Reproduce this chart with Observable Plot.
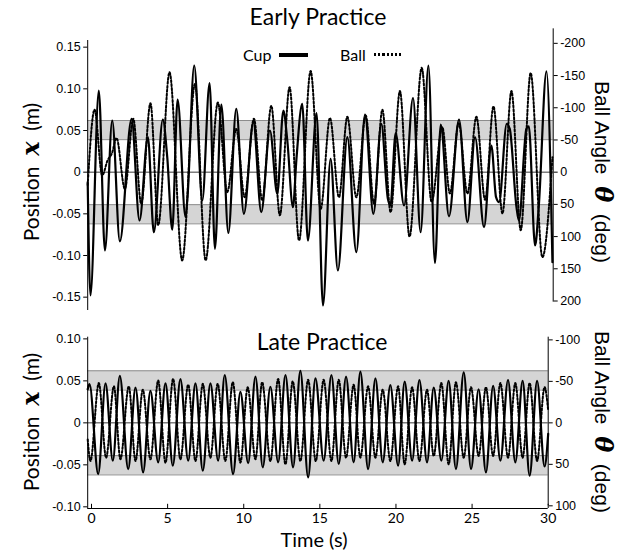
<!DOCTYPE html>
<html>
<head>
<meta charset="utf-8">
<script src="https://cdn.jsdelivr.net/npm/d3@7"></script>
<script src="https://cdn.jsdelivr.net/npm/@observablehq/plot@0.6"></script>
<style>
  body { margin: 0; background: #fff; }
  #wrap { position: relative; width: 624px; height: 556px; background: #fff; overflow: hidden; }
  .abs { position: absolute; white-space: nowrap; color: #000; }
  .title { font-family: Lato, "Open Sans", sans-serif; font-size: 23px; transform: translate(-50%, 0); }
  .ylab { font-family: Lato, "Open Sans", sans-serif; font-size: 21px; transform: translate(-50%, -50%) rotate(-90deg); }
  .rlab { font-family: "Liberation Sans", Arial, sans-serif; font-size: 21px; transform: translate(-50%, -50%) rotate(90deg); }
  .sym { font-family: "DejaVu Serif", "Liberation Serif", serif; font-style: italic; font-weight: bold; font-size: 24px; }
  .leg { font-family: Lato, "Open Sans", sans-serif; font-size: 16px; }
</style>
</head>
<body>
<div id="wrap">
  <div id="topPlot" class="abs" style="left:0;top:0"></div>
  <div id="botPlot" class="abs" style="left:0;top:320px"></div>

  <div class="abs title" style="left:318px;top:2px">Early Practice</div>
  <div class="abs title" style="left:322px;top:327px">Late Practice</div>
  <div class="abs title" style="left:314px;top:527px;font-size:20px">Time (s)</div>

  <div class="abs leg" style="left:243px;top:45px">Cup</div>
  <div class="abs" style="left:279px;top:53px;width:29px;height:3.5px;background:#000"></div>
  <div class="abs leg" style="left:340px;top:45px">Ball</div>
  <div class="abs" style="left:374px;top:53px;width:27px;height:3px;background:repeating-linear-gradient(90deg,#000 0 2.2px,transparent 2.2px 4.2px)"></div>

  <div class="abs ylab" style="left:30px;top:172px">Position&nbsp; <span class="sym">x</span>&nbsp; (m)</div>
  <div class="abs ylab" style="left:30px;top:422px">Position&nbsp; <span class="sym">x</span>&nbsp; (m)</div>
  <div class="abs rlab" style="left:603px;top:172px">Ball Angle&nbsp; <span class="sym">θ</span>&nbsp; (deg)</div>
  <div class="abs rlab" style="left:603px;top:422px">Ball Angle&nbsp; <span class="sym">θ</span>&nbsp; (deg)</div>
</div>

<script>
// ---------- Early practice: cup position (m), extrema ----------
const earlyCupT = [-0.25,-0.07,0.48,0.88,1.36,1.86,2.63,3.15,3.70,4.09,4.68,4.97,5.30,5.65,6.17,6.30,6.74,7.27,7.75,8.10,8.52,8.98,9.50,10.0,10.62,11.14,11.71,12.19,12.59,12.85,13.22,13.45,13.83,14.20,14.77,15.19,15.69,16.17,16.79,17.38,17.95,18.50,19.02,19.45,19.62,19.96,20.51,21.10,21.60,22.11,22.54,22.92,23.46,24.12,24.67,25.17,25.76,26.24,26.55,26.75,27.25,27.45,27.89,28.05,28.54,28.70,29.11,29.35,29.86,30.25];
const earlyCupX = [-0.012,-0.148,0.098,-0.094,0.062,-0.083,0.064,-0.058,0.042,-0.072,0.063,0.018,-0.069,0.087,-0.054,-0.030,0.128,-0.034,0.107,-0.092,0.081,-0.073,0.076,-0.050,0.060,-0.048,0.050,-0.026,0.074,0.038,-0.042,0.016,0.082,-0.082,0.071,-0.160,0.016,-0.118,0.042,-0.096,0.069,-0.050,0.058,-0.032,-0.040,0.047,-0.040,0.089,-0.072,0.128,-0.109,0.057,-0.053,0.063,-0.060,0.042,-0.066,0.032,-0.030,-0.036,0.058,0.052,-0.042,-0.058,0.052,0.055,-0.088,-0.042,0.121,-0.108];

// ---------- Early practice: ball angle (deg) ----------
const earlyBallT = [-0.25,0.20,0.70,1.05,1.35,1.64,2.19,2.74,3.26,3.87,4.38,5.12,5.95,6.79,7.49,8.29,8.91,9.50,10.05,10.66,11.20,11.80,12.36,13.00,13.62,14.38,15.04,15.65,16.24,16.79,17.38,18.00,18.54,19.09,19.63,20.24,20.87,21.67,22.32,23.02,23.52,24.10,24.67,25.26,25.83,26.38,26.97,27.56,28.17,28.82,29.59,30.25];
const earlyBallDeg = [20,-97,5,-18,-30,-53,26,-83,49,-107,82,-155,137,-137,137,-108,31,-67,39,-83,44,-103,67,-132,106,-157,57,-84,39,-86,39,-88,49,-97,62,-126,100,-162,46,-70,33,-76,33,-86,43,-102,64,-126,90,-154,132,-23];

// ---------- Late practice: cup position (m) ----------
const lateCupT = [-0.25,-0.13,0.44,0.92,1.40,1.86,2.41,2.89,3.39,3.87,4.38,4.86,5.34,5.84,6.35,6.83,7.31,7.81,8.32,8.75,9.30,9.78,10.29,10.77,11.25,11.75,12.26,12.74,13.24,13.72,14.23,14.71,15.25,15.76,16.24,16.72,17.22,17.66,18.17,18.65,19.13,19.63,20.14,20.57,21.06,21.54,22.04,22.48,22.98,23.46,23.94,24.45,24.93,25.43,25.91,26.38,26.86,27.36,27.84,28.32,28.78,29.27,29.76,30.0];
const lateCupX = [0.040,0.046,-0.061,0.047,-0.045,0.056,-0.055,0.042,-0.059,0.038,-0.047,0.047,-0.051,0.052,-0.045,0.047,-0.057,0.047,-0.045,0.057,-0.061,0.037,-0.048,0.055,-0.053,0.043,-0.047,0.057,-0.053,0.062,-0.065,0.053,-0.045,0.057,-0.049,0.055,-0.047,0.061,-0.055,0.053,-0.047,0.045,-0.051,0.049,-0.045,0.051,-0.047,0.042,-0.045,0.050,-0.055,0.060,-0.055,0.040,-0.059,0.044,-0.045,0.051,-0.047,0.050,-0.063,0.050,-0.052,-0.013];

// ---------- Late practice: ball angle (deg) ----------
const lateBallT = [-0.25,-0.07,0.48,0.96,1.47,1.90,2.45,2.89,3.37,3.87,4.38,4.86,5.36,5.84,6.35,6.83,7.31,7.81,8.29,8.79,9.28,9.78,10.26,10.77,11.21,11.75,12.26,12.74,13.22,13.72,14.23,14.73,15.25,15.76,16.24,16.72,17.22,17.66,18.17,18.65,19.13,19.63,20.14,20.57,21.06,21.54,22.04,22.48,22.98,23.46,23.94,24.45,24.93,25.43,25.91,26.38,26.86,27.36,27.84,28.32,28.78,29.27,29.76,30.0];
const lateBallDeg = [20,46,-48,42,-44,44,-44,46,-40,44,-51,48,-53,44,-46,46,-47,42,-47,46,-49,48,-43,44,-49,46,-53,50,-50,46,-52,46,-52,46,-52,42,-46,42,-44,42,-40,46,-44,50,-43,46,-40,40,-48,50,-49,42,-43,40,-43,40,-48,42,-48,42,-48,46,-43,-15];

// ---------- Axes / reference values ----------
const topLeftTicks = [0.15,0.10,0.05,0,-0.05,-0.10,-0.15];
const topLeftLabels = ["0.15","0.10","0.05","0","-0.05","-0.10","-0.15"];
const topRightTicks = [-200,-150,-100,-50,0,50,100,150,200];
const botLeftTicks = [0.10,0.05,0,-0.05,-0.10];
const botLeftLabels = ["0.10","0.05","0","-0.05","-0.10"];
const botRightTicks = [-100,-50,0,50,100];
const timeTicks = [0,5,10,15,20,25,30];
const bandInner = 0.039, bandOuter = 0.062;

// degree -> position-axis units, from the two axes of each panel
const kTop = 0.000773;
const kBot = 0.000988;

const zip = (ts, vs) => ts.map((t, i) => ({t, v: vs[i]}));
const bands = [{lo: bandInner, hi: bandOuter}, {lo: -bandOuter, hi: -bandInner}];
const bandLines = [bandOuter, bandInner, -bandInner, -bandOuter];
const lbl = (vals, labs) => v => labs[vals.findIndex(u => Math.abs(u - v) < 1e-9)];

const tickFont = "'Liberation Sans', Arial, sans-serif";

function panel({x0, x1, yDom, height, mt, mb, mr, cup, ball, k, leftT, leftL, rightT, rightLine, xAxis}) {
  const marks = [
    Plot.rect(bands, {x1: x0, x2: x1, y1: "lo", y2: "hi", fill: "#d5d5d5"}),
    Plot.ruleY(bandLines, {x1: x0, x2: x1, stroke: "#8c8c8c", strokeWidth: 1}),
    Plot.ruleY([0], {x1: x0, x2: x1, stroke: "#3a3a3a", strokeWidth: 1}),
    Plot.line(ball, {x: "t", y: d => -d.v * k, curve: "monotone-x", stroke: "#000", strokeWidth: 2, strokeDasharray: "2,2"}),
    Plot.line(cup, {x: "t", y: "v", curve: "monotone-x", stroke: "#000", strokeWidth: 2.2}),
    Plot.ruleX([x0], {y1: yDom[0], y2: yDom[1], stroke: "#000", strokeWidth: 1}),
    Plot.ruleX([x1], {y1: rightLine[0], y2: rightLine[1], stroke: "#000", strokeWidth: 1}),
    Plot.axisY(leftT, {anchor: "left", tickSize: 4, tickPadding: 3, tickFormat: lbl(leftT, leftL), fontSize: 12.5, fontFamily: tickFont}),
    Plot.axisY(rightT.map(d => -d * k), {anchor: "right", tickSize: 4, tickPadding: 3, tickFormat: v => String(Math.round(-v / k)), fontSize: 12.5, fontFamily: tickFont})
  ];
  if (xAxis) {
    marks.push(
      Plot.ruleY([yDom[0]], {x1: x0, x2: x1, stroke: "#000", strokeWidth: 1}),
      Plot.ruleX(timeTicks, {y1: yDom[0], y2: yDom[0] + 0.005, stroke: "#000", strokeWidth: 1}),
      Plot.axisX(timeTicks, {anchor: "bottom", tickSize: 0, tickPadding: 5, fontSize: 14, fontFamily: "Lato, 'Open Sans', sans-serif"})
    );
  }
  return Plot.plot({
    width: 624, height,
    marginLeft: 87.2, marginRight: mr, marginTop: mt, marginBottom: mb,
    x: {domain: [x0, x1], label: null, axis: xAxis ? undefined : null},
    y: {domain: yDom, label: null},
    style: {background: "transparent", color: "#000", fontFamily: tickFont},
    marks
  });
}

document.getElementById("topPlot").appendChild(panel({
  x0: -0.25, x1: 30.3, yDom: [-0.166, 0.158], height: 315, mt: 40, mb: 5, mr: 71.3,
  cup: zip(earlyCupT, earlyCupX), ball: zip(earlyBallT, earlyBallDeg), k: kTop,
  leftT: topLeftTicks, leftL: topLeftLabels, rightT: topRightTicks,
  rightLine: [-0.156, 0.172], xAxis: false
}));

document.getElementById("botPlot").appendChild(panel({
  x0: -0.25, x1: 30, yDom: [-0.102, 0.102], height: 236, mt: 16.7, mb: 48, mr: 76.3,
  cup: zip(lateCupT, lateCupX), ball: zip(lateBallT, lateBallDeg), k: kBot,
  leftT: botLeftTicks, leftL: botLeftLabels, rightT: botRightTicks,
  rightLine: [-0.0988, 0.102], xAxis: true
}));
</script>
</body>
</html>
